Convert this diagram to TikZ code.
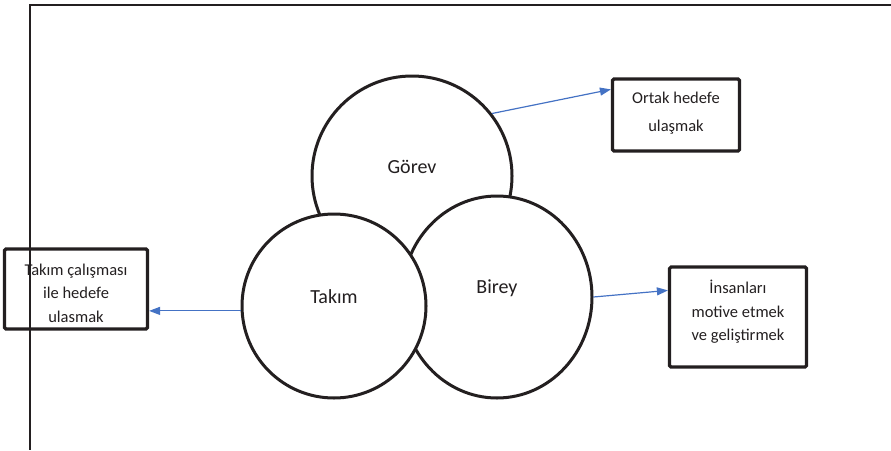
\documentclass[tikz,border=0pt]{standalone}
\usepackage{fontspec}
\setmainfont{Carlito}
\usepackage{tikz}
\usetikzlibrary{arrows.meta,positioning}
\usetikzlibrary{shapes.geometric}
\definecolor{arrblue}{RGB}{68,114,196}
\definecolor{ink}{RGB}{35,31,32}

\begin{document}
\begin{tikzpicture}
		[x=1pt,y=-1pt,
		circ node/.style={draw=ink,fill=white,line width=3pt,inner sep=0pt},
		box node/.style={draw=ink,line width=3.2pt,rounded corners=1.5pt,inner sep=0pt},
		lbl node/.style={text=ink,inner sep=0pt,font=\fontsize{20}{24}\selectfont},
		txt node/.style={text=ink,align=center,inner sep=0pt,font=\fontsize{16.5}{23.5}\selectfont},
		arr/.style={draw=arrblue,line width=1.2pt,-{Triangle[length=11pt,width=8pt]}}]
		\useasboundingbox (0,0) rectangle (891,450);
		\draw[ink,line width=1.3pt] (891,5) -- (30,5) -- (30,450);
		
		\node[circ node,circle,minimum size=200pt] (gorev) at (412,176) {};
		\node[circ node,ellipse,minimum width=190pt,minimum height=202pt] (birey) at (497,297) {};
		\node[circ node,circle,minimum size=184pt] (takim) at (334,306) {};
		
		\node[lbl node] (gorevtxt) at (412,167) {Görev};
		\node[lbl node] (takimtxt) at (334,297) {Takım};
		\node[lbl node] (bireytxt) at (497,288) {Birey};
		
		\node[box node,minimum width=127pt,minimum height=72pt] (ortakbox) at (676,115) {};
		\node[txt node,font=\fontsize{16.5}{28}\selectfont] (ortaktxt) at (676,113) {Ortak hedefe\\ulaşmak};
		\node[box node,minimum width=143pt,minimum height=80pt] (takimbox) at (76,289) {};
		\node[txt node] (takimboxtxt) at (76,293) {Takım çalışması\\ile hedefe\\ulasmak};
		\node[box node,minimum width=137pt,minimum height=100pt] (insanbox) at (738,317) {};
		\node[txt node] (insantxt) at (738,312) {İnsanları\\motive etmek\\ve geliştirmek};
		
		\draw[arr] (gorev.38) -- ([yshift=-12pt]ortakbox.north west);
		\draw[arr] (takim.183) -- (takim.183 -| takimbox.east);
		\draw[arr] (birey.east) -- ([yshift=-25pt]insanbox.north west);
\end{tikzpicture}
\end{document}
